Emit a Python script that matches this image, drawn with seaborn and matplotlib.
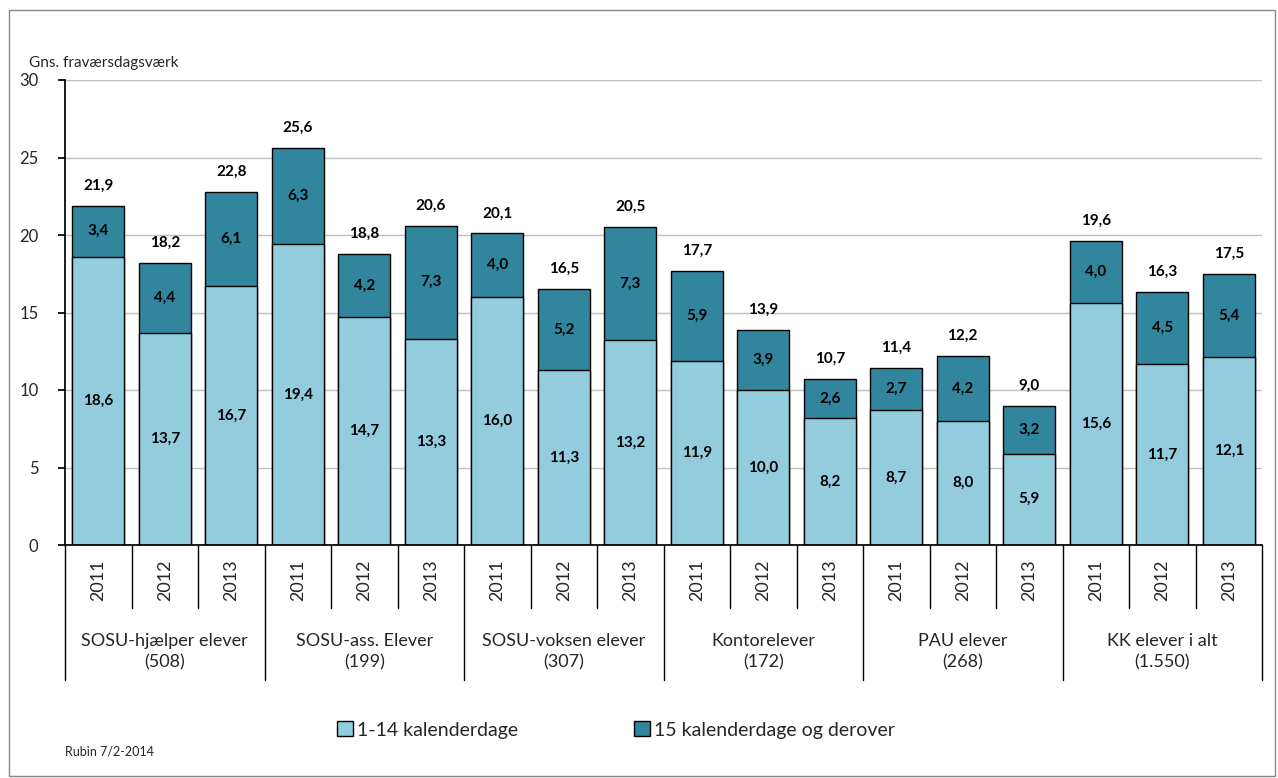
import pandas as pd
import seaborn as sns
import matplotlib.pyplot as plt
from matplotlib.patches import Patch, Rectangle

# data
groups = ['SOSU-hjælper elever\n(508)', 'SOSU-ass. Elever\n(199)', 'SOSU-voksen elever\n(307)',
          'Kontorelever\n(172)', 'PAU elever\n(268)', 'KK elever i alt\n(1.550)']
years = ['2011', '2012', '2013']
short_days = [18.6, 13.7, 16.7, 19.4, 14.7, 13.3, 16.0, 11.3, 13.2,
              11.9, 10.0, 8.2, 8.7, 8.0, 5.9, 15.6, 11.7, 12.1]
long_days = [3.4, 4.4, 6.1, 6.3, 4.2, 7.3, 4.0, 5.2, 7.3,
             5.9, 3.9, 2.6, 2.7, 4.2, 3.2, 4.0, 4.5, 5.4]
totals = [21.9, 18.2, 22.8, 25.6, 18.8, 20.6, 20.1, 16.5, 20.5,
          17.7, 13.9, 10.7, 11.4, 12.2, 9.0, 19.6, 16.3, 17.5]

LIGHT = '#93CDDD'
DARK = '#31859C'

rows = []
for gi, g in enumerate(groups):
    for yi, y in enumerate(years):
        k = gi * 3 + yi
        rows.append({'key': f'{gi}-{y}', 'group': g, 'year': y,
                     'short': short_days[k], 'long': long_days[k], 'total': totals[k]})
df = pd.DataFrame(rows)
order = list(df['key'])

sns.set_theme(style='white')
plt.rcParams['font.family'] = ['Lato', 'DejaVu Sans']

fig = plt.figure(figsize=(12.78, 7.78), dpi=100)
ax = fig.add_axes([65 / 1278, 1 - 545 / 778, (1262 - 65) / 1278, 465 / 778])

# stacked bars: total (dark) behind, short part (light) in front
sns.barplot(data=df, x='key', y='total', order=order, color=DARK, saturation=1,
            width=0.78, edgecolor='black', linewidth=1, ax=ax, errorbar=None)
sns.barplot(data=df, x='key', y='short', order=order, color=LIGHT, saturation=1,
            width=0.78, edgecolor='black', linewidth=1, ax=ax, errorbar=None)

ax.set_ylim(0, 30)
ax.set_xlim(-0.5, len(order) - 0.5)
ax.set_yticks(range(0, 31, 5))
ax.yaxis.grid(True, color='#BFBFBF', linewidth=1)
ax.set_axisbelow(True)
for s in ['top', 'right']:
    ax.spines[s].set_visible(False)
ax.spines['left'].set_color('black')
ax.spines['bottom'].set_color('black')
ax.tick_params(axis='y', left=True, length=5, color='black', labelsize=12, pad=14)
ax.set_xticks([])
ax.set_xlabel('')
ax.set_ylabel('')

# value labels
for i, r in df.iterrows():
    kw = dict(ha='center', va='center', fontsize=11, fontweight='bold', color='black')
    ax.text(i, r['short'] / 2, f"{r['short']:.1f}".replace('.', ','), **kw)
    ax.text(i, r['short'] + (r['total'] - r['short']) / 2, f"{r['long']:.1f}".replace('.', ','), **kw)
    ax.text(i, r['total'] + 1.3, f"{r['total']:.1f}".replace('.', ','), **kw)

# two-level category axis below the plot
trans = ax.get_xaxis_transform()
px = 1 / 465.0
for j in range(len(order) + 1):
    depth = 135 if j % 3 == 0 else 63
    ax.plot([j - 0.5, j - 0.5], [0, -depth * px], color='black', lw=1,
            transform=trans, clip_on=False)
for i, r in df.iterrows():
    ax.text(i, -35 * px, r['year'], rotation=90, ha='center', va='center',
            fontsize=13, transform=trans)
for gi, g in enumerate(groups):
    ax.text(gi * 3 + 1, -107 * px, g, ha='center', va='center', fontsize=13,
            linespacing=1.4, transform=trans)

fig.text(29 / 1278, 1 - 63 / 778, 'Gns. fraværsdagsværk', fontsize=11, va='center')
fig.text(65 / 1278, 1 - 752 / 778, 'Rubin 7/2-2014', fontsize=9, va='center')

handles = [Patch(facecolor=LIGHT, edgecolor='black', label='1-14 kalenderdage'),
           Patch(facecolor=DARK, edgecolor='black', label='15 kalenderdage og derover')]
fig.legend(handles=handles, loc='center', bbox_to_anchor=(616 / 1278, 1 - 730 / 778),
           ncol=2, frameon=False, fontsize=14, handlelength=0.8, handleheight=0.8,
           handletextpad=0.2, columnspacing=6)

fig.patches.append(Rectangle((9 / 1278, 1 - 776 / 778), 1266 / 1278, 766 / 778,
                             transform=fig.transFigure, fill=False,
                             edgecolor='#888888', linewidth=1))

fig.savefig('out.png', dpi=100)
